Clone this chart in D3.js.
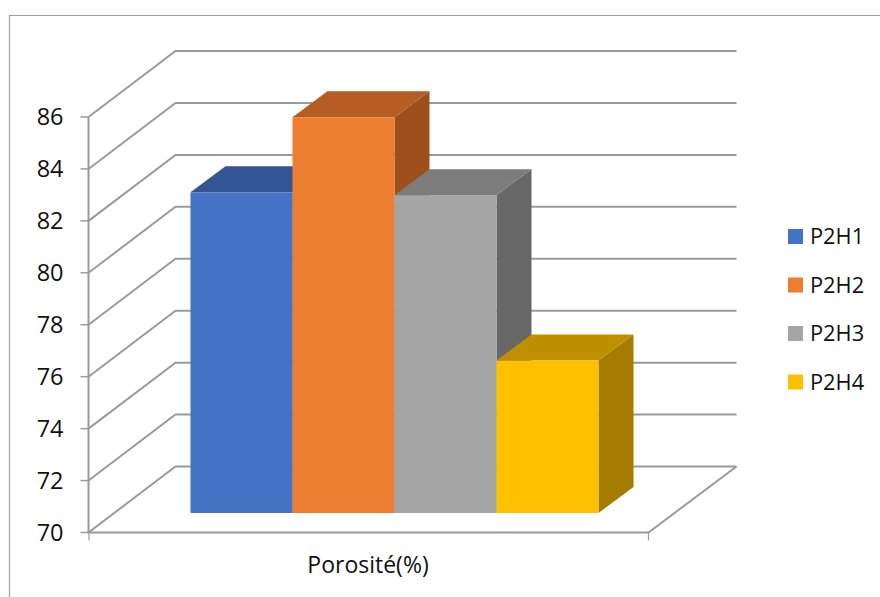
<!DOCTYPE html>
<html><head><meta charset="utf-8">
<script src="https://cdn.jsdelivr.net/npm/d3@7"></script>
<style>html,body{margin:0;padding:0;background:#fff}svg{display:block}text{font-family:"Open Sans",sans-serif;fill:#111}</style>
</head><body><svg id="c" width="880" height="597"></svg>
<script>
const seriesNames = ["P2H1","P2H2","P2H3","P2H4"];
const seriesValues = [82.35,85.24,82.24,75.87];
const seriesFront = ["#4472C4","#ED7D31","#A5A5A5","#FFC000"];
const seriesTop = ["#335593","#B55D22","#7C7C7C","#BE9000"];
const seriesSide = ["#2E4F8C","#9E501C","#676767","#A67C00"];
const yTicks = [70,72,74,76,78,80,82,84,86];
const categoryLabel = "Porosité(%)";

const svg = d3.select("#c");
const y = d3.scaleLinear().domain([70,86]).range([532.5,117]);
const wallDx = 87, wallDy = -66;
const floorLeft = 88.5, floorRight = 648.5;
const barY0 = 513, barDx = 35, barDy = -26;
const x = d3.scaleBand().domain(seriesNames).range([190.5,598.5]).padding(0);
const grid = "#9A9A9A";

// frame
svg.append("path").attr("d","M9.5,597V15.5H880").attr("fill","none").attr("stroke","#A0A0A0").attr("stroke-width",1.2);

// grid lines on left & back walls
yTicks.forEach(t=>{
  const yy=y(t);
  svg.append("path").attr("d",`M${floorLeft},${yy}L${floorLeft+wallDx},${yy+wallDy}H${floorRight+wallDx+1}`)
    .attr("fill","none").attr("stroke",grid).attr("stroke-width",2);
  svg.append("line").attr("x1",80.5).attr("x2",floorLeft).attr("y1",yy).attr("y2",yy).attr("stroke",grid).attr("stroke-width",1.5);
  svg.append("text").attr("x",63.5).attr("y",yy).attr("dy","0.36em").attr("text-anchor","end").attr("font-size",23.5).text(t);
});
// axes & floor
svg.append("path").attr("d",`M${floorLeft},${y(86)}V${y(70)}H${floorRight}L${floorRight+wallDx+1},${y(70)+wallDy}`)
  .attr("fill","none").attr("stroke",grid).attr("stroke-width",2);
[floorLeft+.5,floorRight].forEach(px=>svg.append("line").attr("x1",px).attr("x2",px).attr("y1",y(70)).attr("y2",y(70)+8).attr("stroke",grid).attr("stroke-width",1.2));

// 3D bars
seriesNames.forEach((n,i)=>{
  const x0=x(n), x1=x0+x.bandwidth();
  const top=barY0-(y(70)-y(seriesValues[i]));
  const g=svg.append("g");
  g.append("path").attr("fill",seriesSide[i]).attr("d",`M${x1},${top}L${x1+barDx},${top+barDy}V${barY0+barDy}L${x1},${barY0}Z`);
  g.append("path").attr("fill",seriesTop[i]).attr("d",`M${x0},${top}L${x0+barDx},${top+barDy}H${x1+barDx}L${x1},${top}Z`);
  g.append("rect").attr("fill",seriesFront[i]).attr("x",x0).attr("y",top).attr("width",x1-x0).attr("height",barY0-top);
});

// category label
svg.append("text").attr("x",368).attr("y",565).attr("dy","0.36em").attr("text-anchor","middle").attr("font-size",23).text(categoryLabel);

// legend
const ly=d3.scalePoint().domain(seriesNames).range([229,374.5]);
seriesNames.forEach((n,i)=>{
  svg.append("rect").attr("x",788).attr("y",ly(n)).attr("width",15).attr("height",15).attr("fill",seriesFront[i]);
  svg.append("text").attr("x",810).attr("y",ly(n)+7.5).attr("dy","0.36em").attr("font-size",21.8).text(n);
});
</script></body></html>
